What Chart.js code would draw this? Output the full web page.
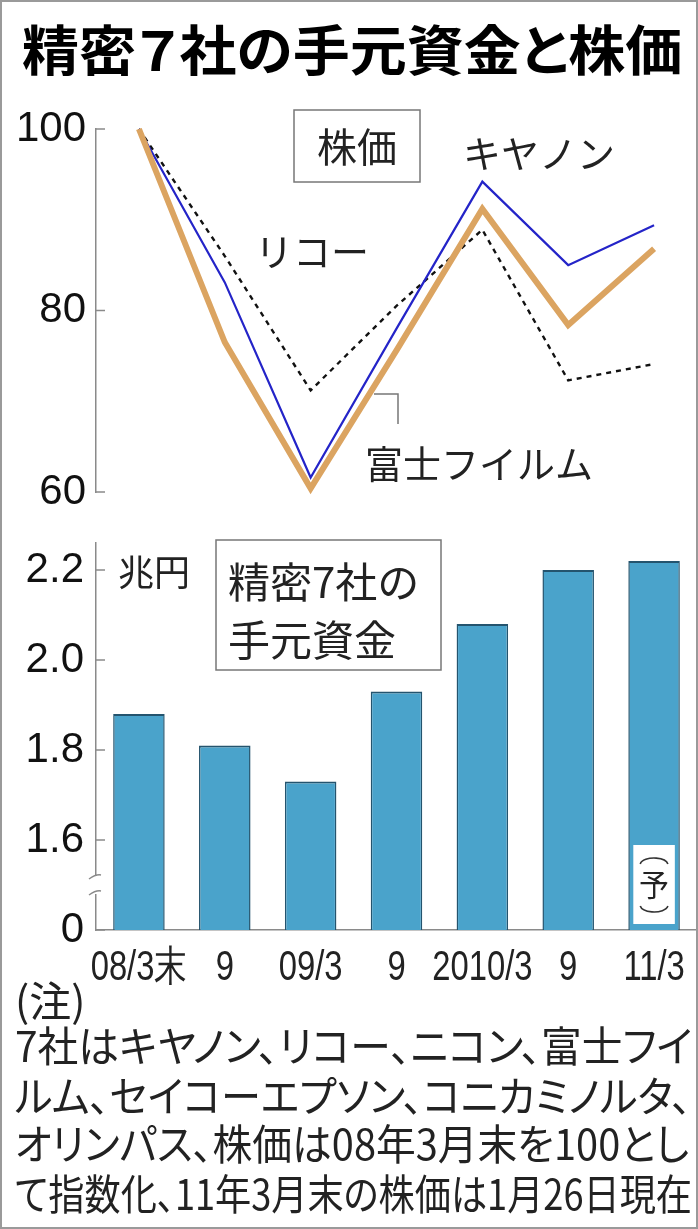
<!DOCTYPE html>
<html lang="ja">
<head>
<meta charset="utf-8">
<title>精密7社の手元資金と株価</title>
<script src="https://cdn.jsdelivr.net/npm/chart.js@4.4.1/dist/chart.umd.min.js"></script>
<style>
  body { margin: 0; background: #fff; }
  #frame {
    position: relative; width: 698px; height: 1229px; box-sizing: border-box;
    border: 2px solid #9a9a9a; overflow: hidden; background: #fff;
    font-family: "Noto Sans CJK JP", sans-serif; color: #1a1a1a;
  }
  .title {
    position: absolute; left: 20px; top: 14px; font-size: 54px; font-weight: bold;
    line-height: 64px; white-space: nowrap; transform-origin: left top; color: #000;
    font-feature-settings: "palt";
  }
  .chart-box { position: absolute; left: 0; width: 698px; }
  #priceBox { top: 88px; height: 420px; }
  #cashBox { top: 508px; height: 490px; }
  .note {
    position: absolute; left: 13px; font-size: 42px; line-height: 49px;
    white-space: nowrap; transform-origin: left top; color: #222;
    font-feature-settings: "palt";
  }
</style>
</head>
<body>
<div id="frame">
  <div class="title" data-fit="660">精密７社の手元資金と株価</div>
  <div class="chart-box" id="priceBox"><canvas id="priceChart"></canvas></div>
  <div class="chart-box" id="cashBox"><canvas id="cashChart"></canvas></div>
  <div class="note" style="top:972px;">(注)</div>
  <div class="note" style="top:1017px;" data-fit="677">7社はキヤノン、リコー、ニコン、富士フイ</div>
  <div class="note" style="top:1067px;" data-fit="677">ルム、セイコーエプソン、コニカミノルタ、</div>
  <div class="note" style="top:1115px;" data-fit="674">オリンパス、株価は08年3月末を100とし</div>
  <div class="note" style="top:1165px;" data-fit="677">て指数化、11年3月末の株価は1月26日現在</div>
</div>
<script>
// データ
const categories = ["08/3末", "9", "09/3", "9", "2010/3", "9", "11/3"];
const canonIndex = [100, 83.1, 61.6, 78.0, 94.2, 85.0, 89.4];
const ricohIndex = [100, 86.0, 71.2, 80.5, 88.9, 72.3, 74.1];
const fujiIndex = [100, 76.5, 60.4, 75.6, 91.2, 78.4, 86.8];
const cashTrillionYen = [1.88, 1.81, 1.73, 1.93, 2.08, 2.2, 2.22];
const priceTicks = [60, 80, 100];
const cashTicks = [1.4, 1.6, 1.8, 2.0, 2.2];
const cashTickLabels = ["0", "1.6", "1.8", "2.0", "2.2"];

const AXIS_COLOR = "#8a8a8a";
const JP = '"Noto Sans CJK JP", sans-serif';
const NUM = '"Liberation Sans", Arial, sans-serif';

// 横幅を参照に合わせる
document.querySelectorAll("[data-fit]").forEach((el) => {
  const target = Number(el.dataset.fit);
  el.style.transform = `scaleX(${target / el.scrollWidth})`;
});

// y軸の幅を固定し、ラベルのはみ出し分の余白をなくす
function fixYAxis(s) {
  s.width = 94;
  s.paddingTop = 0;
  s.paddingBottom = 0;
}

// y軸の内側目盛り
const innerTicks = {
  id: "innerTicks",
  afterDraw(chart) {
    const { ctx, chartArea, scales } = chart;
    ctx.save();
    ctx.strokeStyle = AXIS_COLOR;
    ctx.lineWidth = 1.5;
    scales.y.ticks.forEach((t) => {
      const y = scales.y.getPixelForValue(t.value);
      ctx.beginPath();
      ctx.moveTo(chartArea.left, y);
      ctx.lineTo(chartArea.left + 9, y);
      ctx.stroke();
    });
    ctx.restore();
  },
};

// 株価チャートのラベル
const priceLabels = {
  id: "priceLabels",
  afterDatasetsDraw(chart) {
    const ctx = chart.ctx;
    ctx.save();
    ctx.fillStyle = "#222";
    ctx.strokeStyle = "#777";
    ctx.lineWidth = 1.5;
    ctx.textBaseline = "middle";
    ctx.strokeRect(292, 20, 126, 72);
    ctx.textAlign = "center";
    ctx.font = "40px " + JP;
    ctx.fillText("株価", 355, 57);
    ctx.font = "38px " + JP;
    ctx.fillText("キヤノン", 537, 64);
    ctx.fillText("リコー", 310, 162);
    ctx.textAlign = "left";
    ctx.fillText("富士フイルム", 363, 374);
    ctx.beginPath();
    ctx.moveTo(372, 304);
    ctx.lineTo(396, 304);
    ctx.lineTo(396, 334);
    ctx.stroke();
    ctx.restore();
  },
};

// 手元資金チャートのラベル
const cashLabels = {
  id: "cashLabels",
  afterDatasetsDraw(chart) {
    const { ctx, chartArea, scales } = chart;
    ctx.save();
    ctx.fillStyle = "#222";
    ctx.textBaseline = "middle";
    ctx.font = "36px " + JP;
    ctx.textAlign = "left";
    ctx.fillText("兆円", 116, 62);

    ctx.strokeStyle = "#777";
    ctx.lineWidth = 1.5;
    ctx.fillStyle = "#fff";
    ctx.fillRect(214, 30, 225, 130);
    ctx.strokeRect(214, 30, 225, 130);
    ctx.fillStyle = "#222";
    ctx.font = "42px " + JP;
    ctx.fillText("精密7社の", 226, 72);
    ctx.fillText("手元資金", 226, 130);

    // 予想の印
    const last = chart.getDatasetMeta(0).data[cashTrillionYen.length - 1];
    const bw = last.width;
    const top = chartArea.bottom - 85;
    ctx.fillStyle = "#fff";
    ctx.fillRect(last.x - bw / 2 + 5, top, bw - 10, 79);
    ctx.fillStyle = "#222";
    ctx.textAlign = "center";
    ctx.font = "30px " + JP;
    ctx.fillText("予", last.x, top + 40);
    ctx.strokeStyle = "#333";
    ctx.lineWidth = 1.6;
    ctx.beginPath();
    ctx.ellipse(last.x, top + 20, 14, 7, 0, Math.PI * 1.05, Math.PI * 1.95);
    ctx.stroke();
    ctx.beginPath();
    ctx.ellipse(last.x, top + 60, 14, 7, 0, Math.PI * 0.05, Math.PI * 0.95);
    ctx.stroke();

    // 軸の省略記号
    const yb = scales.y.getPixelForValue(1.5);
    const xl = chartArea.left;
    ctx.fillStyle = "#fff";
    ctx.fillRect(xl - 3, yb - 9, 6, 18);
    ctx.strokeStyle = AXIS_COLOR;
    ctx.lineWidth = 1.5;
    [-8, 8].forEach((d) => {
      ctx.beginPath();
      ctx.moveTo(xl - 7, yb + d + 2);
      ctx.quadraticCurveTo(xl, yb + d - 3, xl + 5, yb + d - 2);
      ctx.stroke();
    });

    // x軸ラベル(細長い数字)
    ctx.fillStyle = "#222";
    ctx.textAlign = "center";
    ctx.textBaseline = "middle";
    ctx.font = "42px " + NUM;
    categories.forEach((c, i) => {
      const x = scales.x.getPixelForValue(i);
      ctx.save();
      ctx.translate(x, chartArea.bottom + 38);
      ctx.scale(0.78, 1);
      ctx.fillText(c, 0, 0);
      ctx.restore();
    });
    ctx.restore();
  },
};

// 株価チャート
new Chart(document.getElementById("priceChart"), {
  type: "line",
  data: {
    labels: categories,
    datasets: [
      {
        label: "富士フイルム",
        data: fujiIndex,
        borderColor: "#dba461",
        borderWidth: 6,
        pointRadius: 0,
        tension: 0,
        clip: false,
      },
      {
        label: "キヤノン",
        data: canonIndex,
        borderColor: "#2424c8",
        borderWidth: 2.2,
        pointRadius: 0,
        tension: 0,
        clip: false,
      },
      {
        label: "リコー",
        data: ricohIndex,
        borderColor: "#111",
        borderWidth: 2.4,
        borderDash: [5, 5],
        pointRadius: 0,
        tension: 0,
        clip: false,
      },
    ],
  },
  options: {
    responsive: true,
    maintainAspectRatio: false,
    animation: false,
    layout: { padding: { top: 39, bottom: 18, right: 3, left: 0 } },
    plugins: { legend: { display: false }, tooltip: { enabled: false } },
    scales: {
      x: { type: "category", offset: true, display: false },
      y: {
        min: 60,
        max: 100,
        afterBuildTicks: (s) => { s.ticks = priceTicks.map((v) => ({ value: v })); },
        afterFit: fixYAxis,
        grid: { display: false, drawTicks: false },
        border: { display: true, color: AXIS_COLOR, width: 1.5 },
        ticks: { color: "#111", padding: 10, font: { size: 42, family: NUM } },
      },
    },
  },
  plugins: [innerTicks, priceLabels],
});

// 手元資金チャート
new Chart(document.getElementById("cashChart"), {
  type: "bar",
  data: {
    labels: categories,
    datasets: [
      {
        label: "精密7社の手元資金",
        data: cashTrillionYen,
        backgroundColor: "#4aa3cb",
        borderColor: "#24546e",
        borderWidth: { top: 2, left: 1.5, right: 1.5, bottom: 0 },
        barPercentage: 0.6,
        categoryPercentage: 1,
      },
    ],
  },
  options: {
    responsive: true,
    maintainAspectRatio: false,
    animation: false,
    layout: { padding: { top: 33, bottom: 0, right: 3, left: 0 } },
    plugins: { legend: { display: false }, tooltip: { enabled: false } },
    scales: {
      x: {
        type: "category",
        offset: true,
        afterFit: (s) => { s.height = 70; },
        grid: { display: false, drawTicks: false },
        border: { display: true, color: AXIS_COLOR, width: 1.5 },
        ticks: { display: false },
      },
      y: {
        min: 1.4,
        max: 2.26,
        afterBuildTicks: (s) => { s.ticks = cashTicks.map((v) => ({ value: v })); },
        afterFit: fixYAxis,
        grid: { display: false, drawTicks: false },
        border: { display: true, color: AXIS_COLOR, width: 1.5 },
        ticks: {
          color: "#111",
          padding: 12,
          font: { size: 42, family: NUM },
          callback: (v) => cashTickLabels[cashTicks.findIndex((t) => Math.abs(t - v) < 1e-6)] ?? "",
        },
      },
    },
  },
  plugins: [innerTicks, cashLabels],
});
</script>
</body>
</html>
